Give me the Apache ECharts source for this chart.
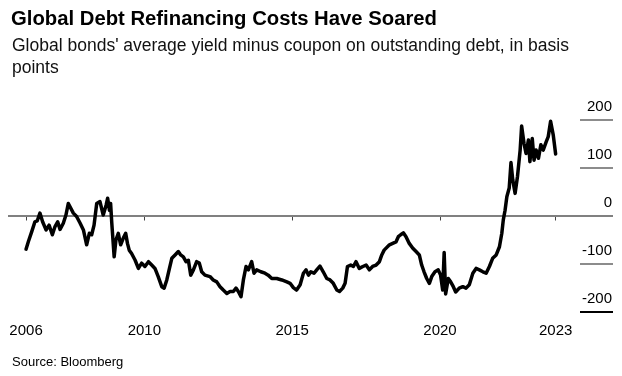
<!DOCTYPE html>
<html>
<head>
<meta charset="utf-8">
<script src="https://cdn.jsdelivr.net/npm/echarts@6/dist/echarts.min.js"></script>
<style>
  html, body { margin: 0; padding: 0; background: #fff; }
  #chart { width: 622px; height: 376px; }
</style>
</head>
<body>
<div id="chart"></div>
<script>
// Dates as decimal years, values in basis points
var dates = [
  2006.00, 2006.08, 2006.19, 2006.30, 2006.38, 2006.47, 2006.56, 2006.68, 2006.78, 2006.89,
  2006.98, 2007.07, 2007.15, 2007.26, 2007.35, 2007.43, 2007.49, 2007.60, 2007.71, 2007.83,
  2007.94, 2008.05, 2008.14, 2008.22, 2008.30, 2008.39, 2008.50, 2008.61, 2008.71, 2008.76,
  2008.82, 2008.86, 2008.90, 2008.98, 2009.04, 2009.12, 2009.20, 2009.29, 2009.37, 2009.43,
  2009.49, 2009.57, 2009.69, 2009.80, 2009.91, 2010.02, 2010.14, 2010.25, 2010.36, 2010.47,
  2010.59, 2010.67, 2010.76, 2010.85, 2010.93, 2011.04, 2011.15, 2011.23, 2011.32, 2011.41,
  2011.49, 2011.57, 2011.66, 2011.77, 2011.86, 2011.94, 2012.05, 2012.22, 2012.33, 2012.45,
  2012.56, 2012.67, 2012.79, 2012.90, 2013.01, 2013.10, 2013.18, 2013.27, 2013.35, 2013.44,
  2013.52, 2013.63, 2013.71, 2013.80, 2013.94, 2014.08, 2014.19, 2014.31, 2014.48, 2014.65,
  2014.82, 2014.93, 2015.04, 2015.15, 2015.27, 2015.38, 2015.47, 2015.55, 2015.63, 2015.74,
  2015.83, 2015.94, 2016.05, 2016.17, 2016.28, 2016.39, 2016.51, 2016.60, 2016.71, 2016.79,
  2016.87, 2016.98, 2017.07, 2017.16, 2017.27, 2017.39, 2017.50, 2017.61, 2017.72, 2017.84,
  2017.95, 2018.03, 2018.11, 2018.17, 2018.29, 2018.40, 2018.51, 2018.59, 2018.67, 2018.76,
  2018.85, 2018.96, 2019.08, 2019.19, 2019.30, 2019.38, 2019.46, 2019.55, 2019.64, 2019.72,
  2019.83, 2019.94, 2020.02, 2020.09, 2020.14, 2020.19, 2020.28, 2020.36, 2020.45, 2020.53,
  2020.65, 2020.77, 2020.88, 2020.99, 2021.11, 2021.22, 2021.33, 2021.45, 2021.56, 2021.67,
  2021.78, 2021.90, 2022.01, 2022.09, 2022.14, 2022.20, 2022.26, 2022.34, 2022.40, 2022.46,
  2022.54, 2022.62, 2022.71, 2022.76, 2022.84, 2022.91, 2022.99, 2023.04, 2023.12, 2023.18,
  2023.25, 2023.33, 2023.41, 2023.49, 2023.59, 2023.66, 2023.74, 2023.83, 2023.91
];
var values = [
  -70, -54, -34, -13, -11, 5, -13, -30, -20, -40,
  -23, -13, -29, -16, 1, 25, 29, 5, -2, -16,
  -30, -61, -37, -40, -20, 25, 29, 1, 22, 36,
  11, 25, -16, -86, -51, -37, -61, -47, -37, -58,
  -72, -79, -93, -110, -99, -106, -96, -103, -110, -127,
  -148, -151, -134, -110, -89, -82, -75, -82, -86, -96,
  -93, -124, -113, -96, -99, -117, -124, -127, -134, -138,
  -148, -155, -162, -158, -158, -151, -158, -169, -134, -106,
  -113, -96, -120, -113, -117, -120, -124, -131, -131, -134,
  -138, -141, -150, -155, -144, -120, -113, -124, -117, -120,
  -113, -105, -117, -131, -134, -141, -155, -158, -151, -141,
  -106, -103, -106, -96, -110, -106, -103, -113, -106, -103,
  -96, -82, -72, -72, -61, -58, -55, -44, -40, -36,
  -44, -58, -68, -75, -82, -103, -117, -131, -141, -127,
  -117, -113, -124, -155, -77, -163, -131, -138, -148, -159,
  -151, -148, -151, -144, -120, -110, -113, -117, -120, -106,
  -89, -82, -65, -37, -9, 11, 39, 57, 110, 74,
  46, 81, 136, 186, 150, 129, 157, 112, 160, 115,
  136, 119, 147, 136, 153, 164, 196, 167, 128
];
var yTicks = [-200, -100, 0, 100, 200];
var xTickValues = [2006, 2010, 2015, 2020, 2023.91];
var xTickLabels = ['2006', '2010', '2015', '2020', '2023'];

var titleText = 'Global Debt Refinancing Costs Have Soared';
var subtitleText = "Global bonds' average yield minus coupon on outstanding debt, in basis\npoints";
var sourceText = 'Source: Bloomberg';

var seriesData = dates.map(function (d, i) { return [d, values[i]]; });

var chart = echarts.init(document.getElementById('chart'), null, { renderer: 'canvas' });
var FONT = '"Liberation Sans", Arial, sans-serif';

chart.setOption({
  animation: false,
  backgroundColor: '#ffffff',
  title: [
    { text: titleText, left: 6, top: 2,
      textStyle: { fontFamily: FONT, fontSize: 20.3, fontWeight: 'bold', color: '#000', lineHeight: 24 } },
    { text: subtitleText, left: 7, top: 30,
      textStyle: { fontFamily: FONT, fontSize: 17.5, fontWeight: 'normal', color: '#111', lineHeight: 22 } },
    { text: sourceText, left: 7, top: 349,
      textStyle: { fontFamily: FONT, fontSize: 13, fontWeight: 'normal', color: '#000', lineHeight: 16 } }
  ],
  grid: [
    { left: 8, right: 9, top: 119.3, bottom: 64.3, containLabel: false },
    { left: 580, right: 9, top: 119.3, bottom: 64.3, containLabel: false }
  ],
  xAxis: [
    { type: 'value', gridIndex: 0, min: 2005.39, max: 2025.85,
      axisLine: { show: false }, splitLine: { show: false },
      axisTick: { show: true, customValues: xTickValues, length: 5, lineStyle: { color: '#444', width: 1 } },
      axisLabel: { show: true, customValues: xTickValues, margin: 12,
        fontFamily: FONT, fontSize: 15, color: '#000',
        formatter: function (v) {
          var best = 0;
          for (var i = 0; i < xTickValues.length; i++) {
            if (Math.abs(xTickValues[i] - v) < Math.abs(xTickValues[best] - v)) best = i;
          }
          return xTickLabels[best];
        } } },
    { type: 'value', gridIndex: 1, min: 0, max: 1, show: false }
  ],
  yAxis: [
    { type: 'value', gridIndex: 0, min: yTicks[0], max: yTicks[yTicks.length - 1], interval: 100, show: false },
    { type: 'value', gridIndex: 1, position: 'right', min: yTicks[0], max: yTicks[yTicks.length - 1], interval: 100,
      axisLine: { show: false }, axisTick: { show: false },
      splitLine: { show: true, lineStyle: { color: ['#000', '#8c8c8c', '#8c8c8c', '#8c8c8c', '#8c8c8c'], width: 2 } },
      axisLabel: { show: true, inside: true, margin: 1, align: 'right', verticalAlign: 'bottom',
        padding: [0, 0, 5, 0], fontFamily: FONT, fontSize: 15, color: '#000' } }
  ],
  series: [
    { type: 'line', xAxisIndex: 0, yAxisIndex: 0, data: seriesData,
      showSymbol: false, symbol: 'none', z: 5,
      lineStyle: { color: '#000', width: 3.5, join: 'round', cap: 'round' },
      markLine: { silent: true, symbol: 'none', z: 1,
        data: [{ yAxis: 0 }],
        label: { show: false },
        lineStyle: { color: '#808080', width: 2, type: 'solid' } } }
  ]
});
</script>
</body>
</html>
